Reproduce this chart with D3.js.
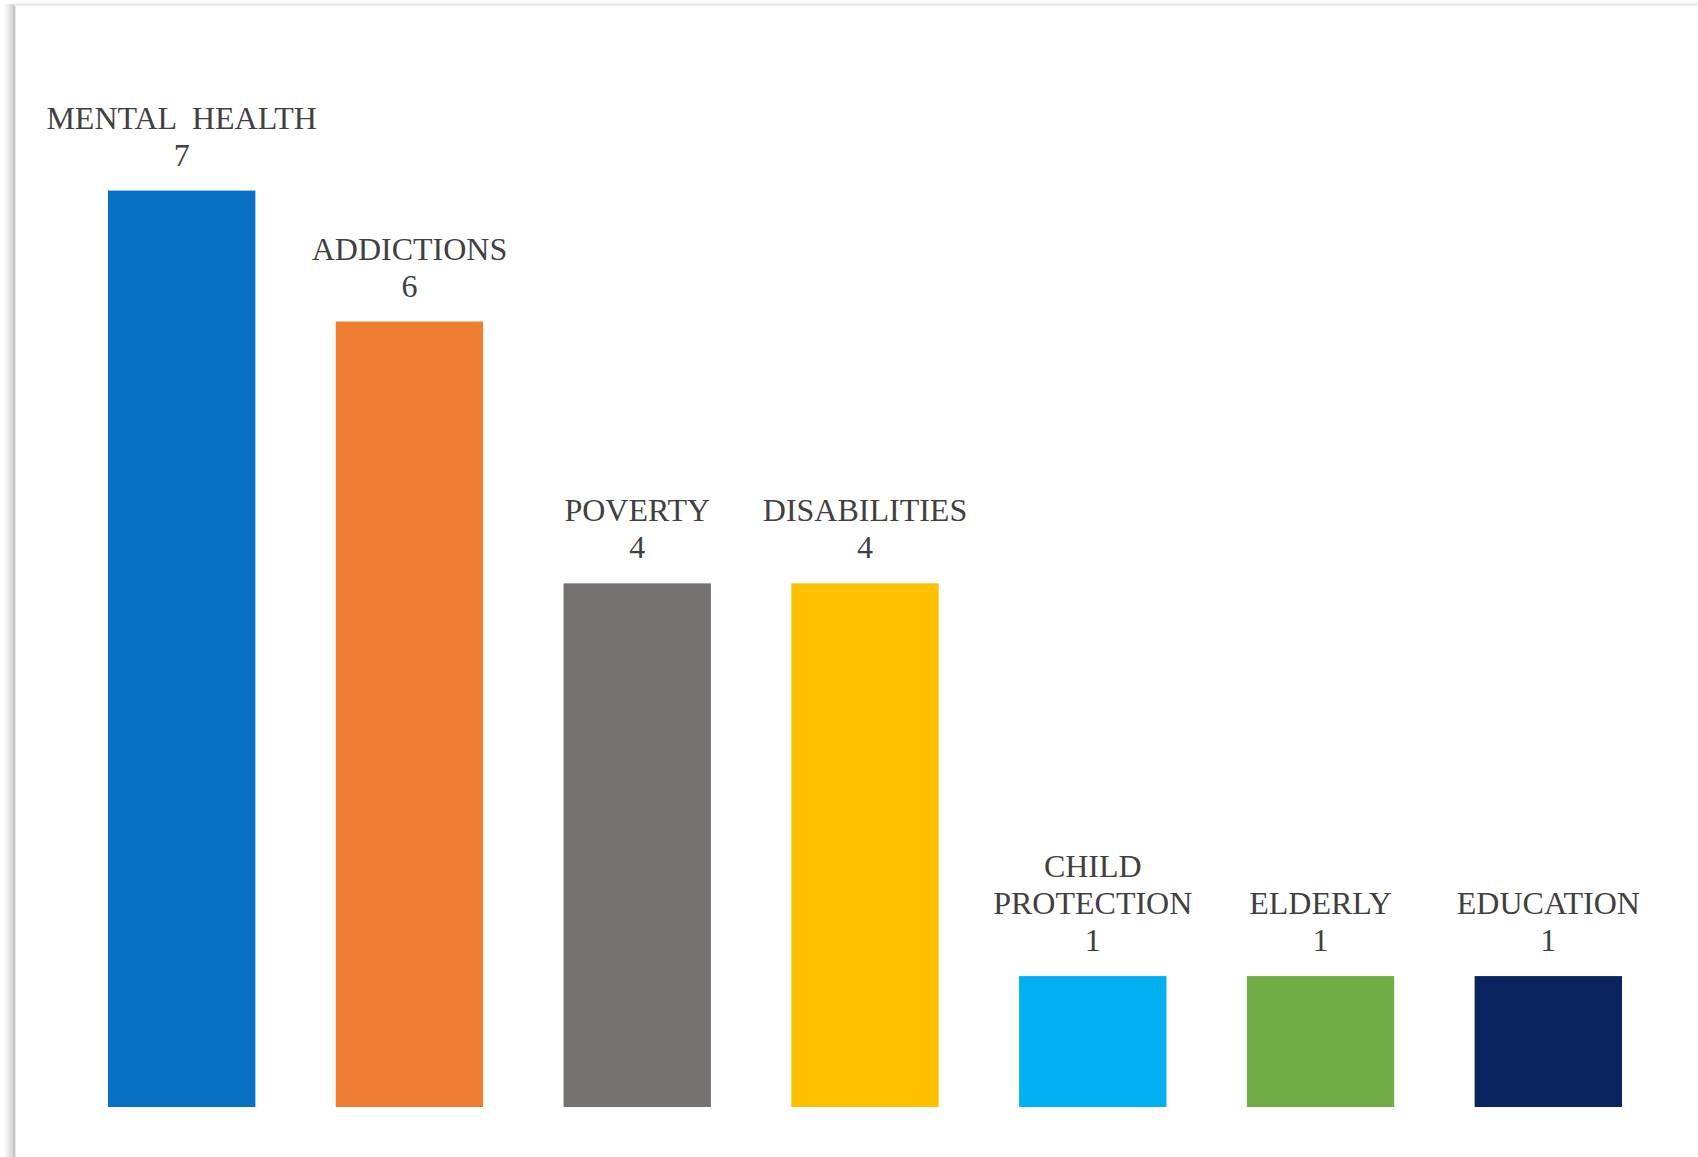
<!DOCTYPE html>
<html>
<head>
<meta charset="utf-8">
<script src="https://cdn.jsdelivr.net/npm/d3@7"></script>
<style>
  body { margin: 0; background: #fff; }
  svg { display: block; }
</style>
</head>
<body>
<div class="chart"></div>
<script>
// categories (label lines) and values
const categories = [
  ["MENTAL  HEALTH"],
  ["ADDICTIONS"],
  ["POVERTY"],
  ["DISABILITIES"],
  ["CHILD", "PROTECTION"],
  ["ELDERLY"],
  ["EDUCATION"],
];
const values = [7, 6, 4, 4, 1, 1, 1];
const colors = ["#0770C3", "#ED7D31", "#767171", "#FFC000", "#00B0F0", "#70AD47", "#0A2361"];

const W = 1698, H = 1157;

const svg = d3
  .select(".chart")
  .append("svg")
  .attr("width", W)
  .attr("height", H);

// frame edges (left shadowed line, faint top line)
const grad = svg.append("defs").append("linearGradient").attr("id", "edge");
grad.append("stop").attr("offset", "0%").attr("stop-color", "#fff");
grad.append("stop").attr("offset", "70%").attr("stop-color", "#d6d6d6");
grad.append("stop").attr("offset", "85%").attr("stop-color", "#bdbdbd");
grad.append("stop").attr("offset", "100%").attr("stop-color", "#f2f2f2");
svg.append("rect").attr("x", 4).attr("y", 4).attr("width", 12).attr("height", H - 4).attr("fill", "url(#edge)");
svg.append("rect").attr("x", 14).attr("y", 3).attr("width", W - 14).attr("height", 3).attr("fill", "#ececec");

const idx = d3.range(values.length);

const x = d3.scaleBand()
  .domain(idx)
  .range([108, 1622])
  .paddingInner(0.353)
  .paddingOuter(0);

const y = d3.scaleLinear().domain([0, 7]).range([1107, 190.6]);

svg
  .selectAll("rect.bar")
  .data(idx)
  .join("rect")
  .attr("class", "bar")
  .attr("x", (i) => x(i))
  .attr("width", x.bandwidth())
  .attr("y", (i) => y(values[i]))
  .attr("height", (i) => y(0) - y(values[i]))
  .attr("fill", (i) => colors[i]);

// data labels: category name lines + value
const lineH = 37;
const labels = svg
  .selectAll("text.lbl")
  .data(idx)
  .join("text")
  .attr("class", "lbl")
  .attr("text-anchor", "middle")
  .style("font-family", "'Liberation Serif', 'Times New Roman', serif")
  .style("font-size", "32px")
  .style("white-space", "pre")
  .attr("fill", "#404040");

labels.each(function (i) {
  const lines = categories[i].concat([String(values[i])]);
  const cx = x(i) + x.bandwidth() / 2;
  const base = y(values[i]) - 25;
  d3.select(this)
    .selectAll("tspan")
    .data(lines)
    .join("tspan")
    .attr("x", cx)
    .attr("y", (d, k) => base - (lines.length - 1 - k) * lineH)
    .text((d) => d);
});
</script>
</body>
</html>
